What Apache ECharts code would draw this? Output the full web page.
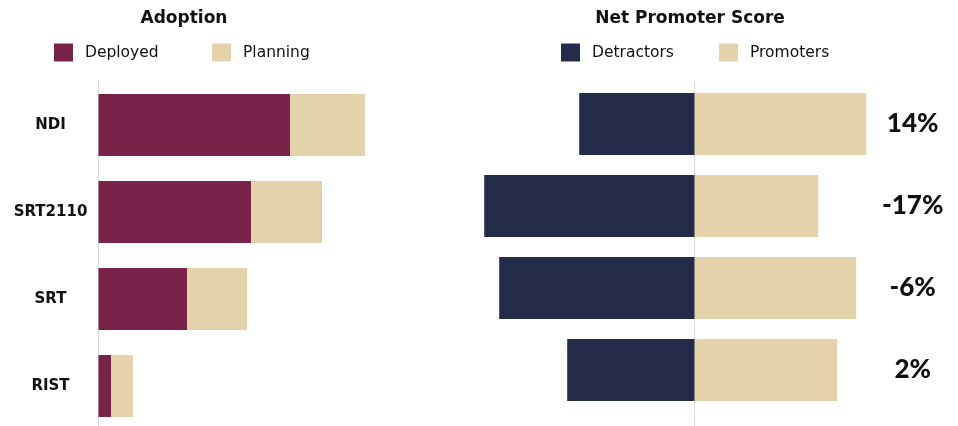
<!DOCTYPE html>
<html>
<head>
<meta charset="utf-8">
<script src="https://cdn.jsdelivr.net/npm/echarts@6/dist/echarts.min.js"></script>
<style>
  html, body { margin: 0; padding: 0; background: #ffffff; }
  #chart { width: 958px; height: 426px; }
</style>
</head>
<body>
<div id="chart"></div>
<script>
// Protocols compared in both panels
var categories = ['NDI', 'SRT2110', 'SRT', 'RIST'];

// Adoption (% of respondents)
var deployed = [38.3, 30.5, 17.7, 2.5];
var planning = [15.0, 14.2, 12.0, 4.4];

// Net Promoter Score components (% of respondents)
var detractors = [23.1, 42.1, 39.1, 25.5];
var promoters = [34.3, 24.7, 32.3, 28.5];
var npsScores = [14, -17, -6, 2];

var MAROON = '#7a2349';
var BEIGE = '#e3d2aa';
var NAVY = '#242c4a';
var INK = '#111111';
var FONT = '"DejaVu Sans", Lato, sans-serif';
var BIG_FONT = 'Lato, "DejaVu Sans", sans-serif';

var chart = echarts.init(document.getElementById('chart'), null, { renderer: 'canvas' });

function legendItem(name, left) {
  return {
    data: [name],
    left: left,
    top: 43.5,
    padding: 0,
    icon: 'rect',
    itemWidth: 19,
    itemHeight: 18,
    selectedMode: false,
    textStyle: { fontFamily: FONT, fontSize: 15.5, color: INK, padding: [0, 0, 0, 7] }
  };
}

var hiddenAxis = {
  axisLine: { show: false },
  axisTick: { show: false },
  axisLabel: { show: false },
  splitLine: { show: false }
};

function titleItem(text, centerX) {
  return {
    text: text,
    left: centerX, top: 10, padding: 0, textAlign: 'center',
    textStyle: { fontFamily: FONT, fontSize: 17, fontWeight: 'bold', color: INK }
  };
}

var option = {
  backgroundColor: '#ffffff',
  animation: false,
  title: [
    titleItem('Adoption', 184),
    titleItem('Net Promoter Score', 690)
  ],
  legend: [
    legendItem('Deployed', 54),
    legendItem('Planning', 212),
    legendItem('Detractors', 561),
    legendItem('Promoters', 719)
  ],
  grid: [
    // adoption bars
    { left: 98.5, top: 81.5, width: 300, height: 348, outerBoundsMode: 'none' },
    // NPS bars
    { left: 444.7, top: 83, width: 430, height: 328, outerBoundsMode: 'none' },
    // NPS zero line
    { left: 444.7, top: 82, width: 430, height: 348, outerBoundsMode: 'none' }
  ],
  xAxis: [
    Object.assign({ type: 'value', gridIndex: 0, min: 0, max: 60 }, hiddenAxis),
    Object.assign({ type: 'value', gridIndex: 1, min: -50, max: 36 }, hiddenAxis),
    Object.assign({ type: 'value', gridIndex: 2, min: -50, max: 36 }, hiddenAxis)
  ],
  yAxis: [
    {
      type: 'category', gridIndex: 0, data: categories, inverse: true,
      axisLine: { show: true, lineStyle: { color: '#d9d9d9', width: 1 } },
      axisTick: { show: false },
      axisLabel: {
        margin: 48, align: 'center',
        fontFamily: FONT, fontSize: 15, fontWeight: 'bold', color: INK
      }
    },
    Object.assign({ type: 'category', gridIndex: 1, data: categories, inverse: true }, hiddenAxis),
    {
      type: 'category', gridIndex: 1, position: 'right', inverse: true,
      data: npsScores.map(function (v) { return v + '%'; }),
      axisLine: { show: false, onZero: false },
      axisTick: { show: false },
      axisLabel: {
        margin: 38, align: 'center',
        fontFamily: BIG_FONT, fontSize: 26, fontWeight: 900, color: INK
      }
    },
    {
      type: 'category', gridIndex: 2, data: categories, inverse: true,
      axisLine: { show: true, onZero: true, lineStyle: { color: '#d9d9d9', width: 1 } },
      axisTick: { show: false },
      axisLabel: { show: false }
    }
  ],
  series: [
    {
      name: 'Deployed', type: 'bar', stack: 'adoption',
      xAxisIndex: 0, yAxisIndex: 0, barWidth: 62,
      itemStyle: { color: MAROON },
      data: deployed
    },
    {
      name: 'Planning', type: 'bar', stack: 'adoption',
      xAxisIndex: 0, yAxisIndex: 0, barWidth: 62,
      itemStyle: { color: BEIGE },
      data: planning
    },
    {
      name: 'Detractors', type: 'bar',
      xAxisIndex: 1, yAxisIndex: 1, barWidth: 62, barGap: '-100%',
      itemStyle: { color: NAVY },
      data: detractors.map(function (v) { return -v; })
    },
    {
      name: 'Promoters', type: 'bar',
      xAxisIndex: 1, yAxisIndex: 1, barWidth: 62, barGap: '-100%',
      itemStyle: { color: BEIGE },
      data: promoters
    }
  ]
};

chart.setOption(option);
</script>
</body>
</html>
